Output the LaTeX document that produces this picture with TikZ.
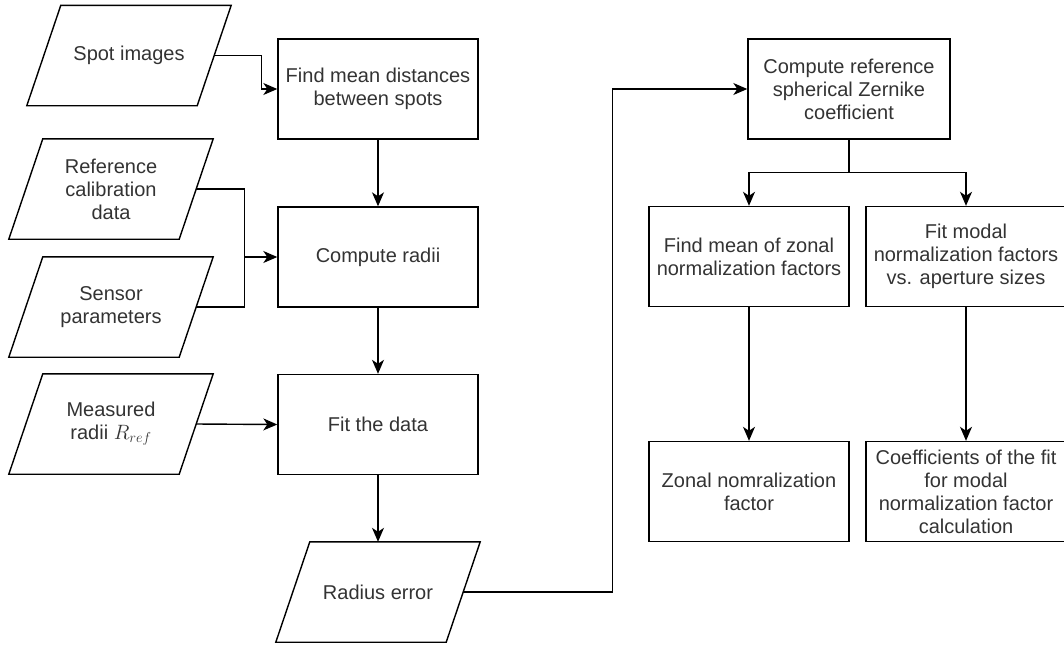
\documentclass[tikz,border=0pt]{standalone}
\usepackage{fontspec}
\setmainfont{Liberation Sans}
\usetikzlibrary{arrows.meta,calc}
\tikzset{
  line/.style={draw=black, line width=1.4pt},
  arr/.style={line, -{Stealth[length=14pt,width=12pt,inset=4pt]}},
  txt/.style={align=center, font=\fontsize{20pt}{23pt}\selectfont, text=black!80},
  box/.style={txt, draw=black, line width=1.4pt, minimum width=200pt, minimum height=100pt, inner sep=2pt},
  paratext/.style={txt, minimum width=204pt, minimum height=100pt, inner sep=0pt},
}
\newcommand\drawpara[1]{\draw[line] (#1.south west) -- ($(#1.north west)+(34,0)$) -- (#1.north east) -- ($(#1.south east)+(-34,0)$) -- cycle;}
\begin{document}
\begin{tikzpicture}[x=1pt,y=-1pt]
\useasboundingbox (0,0) rectangle (1064,646);
% inputs (parallelograms)
\node[paratext] (spot)   at (129,55.5) {Spot images};
\node[paratext] (ref)    at (111,189) {Reference\\calibration\\data};
\node[paratext] (sensor) at (111,307) {Sensor\\parameters};
\node[paratext] (meas)   at (111,424) {Measured\\radii $R_{ref}$};
\node[paratext] (radius) at (378,592) {Radius error};
\drawpara{spot}
\drawpara{ref}
\drawpara{sensor}
\drawpara{meas}
\drawpara{radius}
% process boxes
\node[box] (mean)   at (378,89)  {Find mean distances\\between spots};
\node[box] (radii)  at (378,257) {Compute radii};
\node[box] (fit)    at (378,424.5) {Fit the data};
\node[box, minimum width=202pt] (cref) at (849,89) {Compute reference\\spherical Zernike\\coefficient};
\node[box] (zmean)  at (749,256.5) {Find mean of zonal\\normalization factors};
\node[box] (fmodal) at (966,256.5) {Fit modal\\normalization factors\\vs. aperture sizes};
\node[box] (zfac)   at (749,491.5) {Zonal nomralization\\factor};
\node[box] (coef)   at (966,491.5) {Coefficients of the fit\\for modal\\normalization factor\\calculation};
% connectors
\draw[arr] ($(spot.east)+(-17,0)$) -| ($(mean.west)+(-16,0)$) -- (mean.west);
\draw[arr] ($(ref.east)+(-17,0)$) -| ($(radii.west)+(-33,0)$) -- (radii.west);
\draw[line] ($(sensor.east)+(-17,0)$) -| ($(radii.west)+(-33,0)$);
\draw[arr] (mean.south) -- (radii.north);
\draw[arr] (radii.south) -- (fit.north);
\draw[arr] ($(meas.east)+(-17,0)$) -- (fit.west);
\draw[arr] (fit.south) -- (radius.north);
\draw[arr] ($(radius.east)+(-17,0)$) -| ($(cref.west)+(-135,0)$) -- (cref.west);
\draw[line] (cref.south) -- ++(0,33) coordinate (split);
\draw[arr] (split) -| (zmean.north);
\draw[arr] (split) -| (fmodal.north);
\draw[arr] (zmean.south) -- (zfac.north);
\draw[arr] (fmodal.south) -- (coef.north);
\end{tikzpicture}
\end{document}
